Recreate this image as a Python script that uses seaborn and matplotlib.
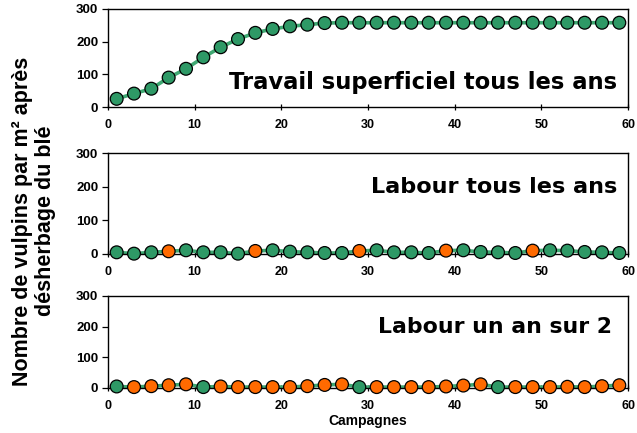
import matplotlib
matplotlib.use("Agg")
import matplotlib.pyplot as plt
import seaborn as sns
import pandas as pd

# Campaign numbers (odd years)
campagnes = [1, 3, 5, 7, 9, 11, 13, 15, 17, 19, 21, 23, 25, 27, 29,
             31, 33, 35, 37, 39, 41, 43, 45, 47, 49, 51, 53, 55, 57, 59]

# Vulpin density after weeding, per scenario
travail_sup = [25, 41, 56, 90, 117, 152, 183, 208, 227, 239, 247, 252, 257, 258, 258,
               258, 258, 258, 258, 258, 258, 258, 258, 258, 258, 258, 258, 258, 258, 258]
labour_tous = [5, 1, 5, 8, 11, 5, 5, 1, 9, 11, 7, 5, 3, 3, 9,
               11, 5, 5, 3, 10, 11, 6, 5, 3, 10, 11, 10, 6, 5, 3]
labour_un_sur_2 = [5, 3, 6, 9, 12, 3, 5, 3, 3, 3, 3, 6, 10, 12, 3,
                   3, 3, 3, 3, 5, 8, 12, 3, 3, 3, 3, 4, 3, 6, 9]

# Marker colour class for each campaign
etat_sup = ["vert"] * 30
etat_tous = ["vert", "vert", "vert", "orange", "vert", "vert", "vert", "vert", "orange", "vert",
             "vert", "vert", "vert", "vert", "orange", "vert", "vert", "vert", "vert", "orange",
             "vert", "vert", "vert", "vert", "orange", "vert", "vert", "vert", "vert", "vert"]
etat_un_sur_2 = ["vert", "orange", "orange", "orange", "orange", "vert", "orange", "orange",
                 "orange", "orange", "orange", "orange", "orange", "orange", "vert", "orange",
                 "orange", "orange", "orange", "orange", "orange", "orange", "vert", "orange",
                 "orange", "orange", "orange", "orange", "orange", "orange"]

titres = ["Travail superficiel tous les ans", "Labour tous les ans", "Labour un an sur 2"]
yticks = [0, 100, 200, 300]
xticks = [0, 10, 20, 30, 40, 50, 60]

sns.set_theme(style="white")
plt.rcParams["font.family"] = ["Liberation Sans", "DejaVu Sans"]
for key in ("text.color", "axes.labelcolor", "xtick.color", "ytick.color"):
    plt.rcParams[key] = "black"

VERT = "#2e9966"
LIGNE = "#3fa872"
ORANGE = "#ff6a00"
palette = {"vert": VERT, "orange": ORANGE}

fig = plt.figure(figsize=(6.37, 4.33), dpi=100)
W, H = 637, 433
# panel boxes in pixels: (left, top, right, bottom)
boxes = [(108, 9, 628, 107), (108, 153, 628, 254), (108, 296, 628, 388)]
series = [(travail_sup, etat_sup), (labour_tous, etat_tous), (labour_un_sur_2, etat_un_sur_2)]
# title anchors: right edge (px), vertical centre (axes fraction), width (px)
titre_pos = [(617, 0.255, 389), (617, 0.66, 247), (612, 0.66, 234)]

renderer = fig.canvas.get_renderer()
for (l, t, r, b), (vals, etat), titre, (tx, ty, tw) in zip(boxes, series, titres, titre_pos):
    ax = fig.add_axes([l / W, 1 - b / H, (r - l) / W, (b - t) / H])
    df = pd.DataFrame({"campagne": campagnes, "densite": vals, "etat": etat})
    sns.lineplot(data=df, x="campagne", y="densite", ax=ax, color=LIGNE,
                 linewidth=2.6, zorder=2)
    sns.scatterplot(data=df, x="campagne", y="densite", hue="etat", palette=palette,
                    ax=ax, s=85, edgecolor="black", linewidth=0.9, legend=False,
                    zorder=3, clip_on=False)
    ax.set_xlim(0, 60)
    ax.set_ylim(0, 300)
    ax.set_xticks(xticks)
    ax.set_yticks(yticks)
    ax.set_xticklabels([str(v) for v in xticks], fontsize=9, fontweight="bold")
    ax.set_yticklabels([str(v) for v in yticks], fontsize=9.5, fontweight="bold")
    ax.tick_params(axis="y", direction="out", length=4, width=0.9, pad=3, left=True)
    ax.tick_params(axis="x", direction="inout", length=5, width=0.9, pad=6, bottom=True)
    for sp in ax.spines.values():
        sp.set_color("black")
        sp.set_linewidth(1.0)
    ax.set_xlabel("")
    ax.set_ylabel("")
    txt = fig.text(tx / W, 0, titre, ha="right", va="center", fontsize=16,
                   fontweight="bold", family=["DejaVu Sans"])
    txt.set_transform(matplotlib.transforms.blended_transform_factory(fig.transFigure, ax.transAxes))
    txt.set_y(ty)
    w = txt.get_window_extent(renderer).width
    txt.set_fontsize(16 * tw / w)

fig.text(368 / W, 1 - 421 / H, "Campagnes", ha="center", va="center",
         fontsize=10, fontweight="bold")
fig.text(34 / W, 1 - 221 / H, "Nombre de vulpins par m² après\ndésherbage du blé",
         ha="center", va="center", rotation=90, fontsize=15.5, fontweight="bold",
         linespacing=1.1)

fig.savefig("out.png", dpi=100)
